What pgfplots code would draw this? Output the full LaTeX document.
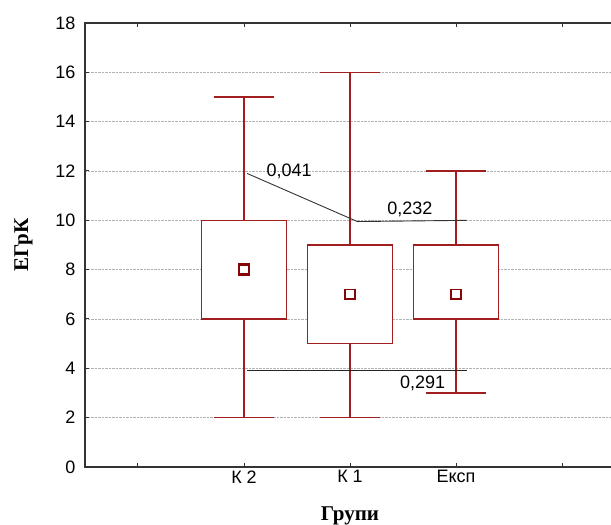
\documentclass[border=0pt]{standalone}
\usepackage{fontspec}
\setmainfont{Liberation Sans}
\newfontfamily\serifbold{Liberation Serif}
\usepackage{pgfplots}
\pgfplotsset{compat=1.18}
\usepgfplotslibrary{statistics}
\definecolor{boxred}{RGB}{160,30,30}
\definecolor{meanred}{RGB}{135,5,5}
\begin{document}
\begin{tikzpicture}
\path[use as bounding box] (0pt,0pt) rectangle (611pt,525pt);
\begin{axis}[
  at={(85pt,58pt)}, anchor=south west,
  scale only axis, width=530pt, height=444pt,
  xmin=-0.5, xmax=4.5, ymin=0, ymax=18,
  ytick={0,2,...,18}, xtick={0,1,2,3,4},
  xticklabels={,К 2,К 1,Експ,},
  tick align=inside, major tick length=4pt,
  ymajorgrids, grid style={densely dotted, black!30, line width=0.9pt},
  axis line style={line width=1.2pt, black!80},
  tick style={black!80, line width=1pt},
  ticklabel style={font=\fontsize{18}{20}\selectfont},
  yticklabel style={xshift=-6pt},
  /pgf/number format/assume math mode=true,
  xlabel={Групи}, ylabel={ЕГрК},
  label style={font=\serifbold\bfseries\fontsize{21}{24}\selectfont},
  xlabel style={yshift=-17pt},
  ylabel style={yshift=16pt},
  boxplot/draw direction=y,
]
\addplot[boxred, line width=1.2pt, fill=white, boxplot prepared={draw position=1, lower whisker=2, lower quartile=6, median=6, upper quartile=10, upper whisker=15, box extend=0.8, whisker extend=0.57}] coordinates {};
\addplot[boxred, line width=1.2pt, fill=white, boxplot prepared={draw position=2, lower whisker=2, lower quartile=5, median=5, upper quartile=9, upper whisker=16, box extend=0.8, whisker extend=0.57}] coordinates {};
\addplot[boxred, line width=1.2pt, fill=white, boxplot prepared={draw position=3, lower whisker=3, lower quartile=6, median=6, upper quartile=9, upper whisker=12, box extend=0.8, whisker extend=0.57}] coordinates {};
\addplot[only marks, mark=square, mark size=5pt, mark options={draw=meanred, line width=2.5pt, fill=white}] coordinates {(1,8)};
\addplot[only marks, mark=square, mark size=4.8pt, mark options={draw=meanred, line width=1.8pt, fill=white}] coordinates {(2,7) (3,7)};
\draw[black!80, line width=0.9pt] (axis cs:1.03,11.9) -- (axis cs:2.07,9.95) -- (axis cs:3.1,10);
\draw[black!85, line width=1.3pt] (axis cs:1.03,3.9) -- (axis cs:3.1,3.9);
\node[anchor=west, font=\fontsize{18}{20}\selectfont] at (axis cs:1.18,12.0) {0,041};
\node[anchor=west, font=\fontsize{18}{20}\selectfont] at (axis cs:2.32,10.45) {0,232};
\node[anchor=west, font=\fontsize{18}{20}\selectfont] at (axis cs:2.44,3.4) {0,291};
\end{axis}
\end{tikzpicture}
\end{document}
